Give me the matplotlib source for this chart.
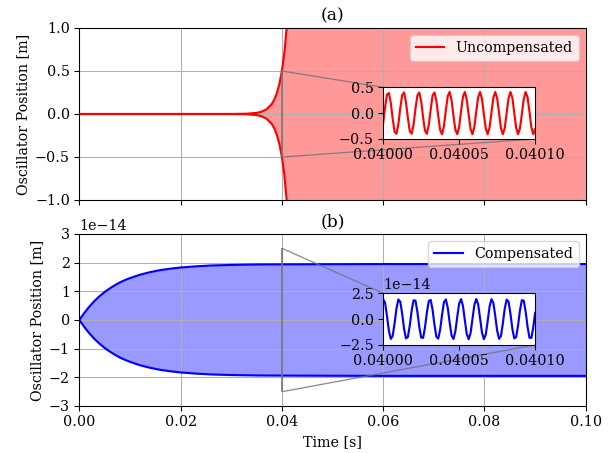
import numpy as np
import matplotlib
matplotlib.use('Agg')
import matplotlib.pyplot as plt
from matplotlib.ticker import FormatStrFormatter

plt.rcParams['font.family'] = 'DejaVu Serif'
plt.rcParams['font.size'] = 10.7

# envelope of the uncompensated oscillation
unc_t   = [0.0, 0.030, 0.033, 0.035, 0.036, 0.037, 0.038, 0.0385, 0.039, 0.0395,
           0.040, 0.0405, 0.041, 0.0415, 0.042, 0.045, 0.1]
unc_env = [0.0, 0.0003, 0.003, 0.013, 0.027, 0.056, 0.116, 0.167, 0.241, 0.347,
           0.50, 0.72, 1.04, 1.50, 2.16, 19.0, 1000.0]

# envelope of the compensated oscillation, units of 1e-14 m
comp_t   = [0.0, 0.001, 0.002, 0.003, 0.004, 0.005, 0.006, 0.007, 0.008, 0.009,
            0.010, 0.012, 0.014, 0.016, 0.018, 0.020, 0.023, 0.026, 0.030, 0.035,
            0.040, 0.050, 0.060, 0.080, 0.100]
comp_env = [0.0, 0.25, 0.47, 0.665, 0.83, 0.975, 1.10, 1.21, 1.31, 1.39,
            1.46, 1.58, 1.67, 1.74, 1.79, 1.83, 1.87, 1.90, 1.92, 1.935,
            1.94, 1.945, 1.95, 1.95, 1.95]

# zoomed window 0.04000 .. 0.04010 s, 81 samples
zoom_t = np.linspace(0.04, 0.0401, 81)
unc_zoom = [-0.19, 0.12, 0.36, 0.39, 0.20, -0.11, -0.36, -0.40, -0.21, 0.10,
            0.35, 0.40, 0.21, -0.09, -0.35, -0.40, -0.22, 0.09, 0.34, 0.40,
            0.23, -0.08, -0.34, -0.40, -0.23, 0.07, 0.34, 0.40, 0.24, -0.06,
            -0.33, -0.41, -0.25, 0.06, 0.33, 0.41, 0.25, -0.05, -0.32, -0.41,
            -0.26, 0.04, 0.32, 0.41, 0.26, -0.03, -0.31, -0.41, -0.27, 0.03,
            0.31, 0.41, 0.28, -0.02, -0.30, -0.41, -0.28, 0.01, 0.30, 0.41,
            0.29, 0.00, -0.29, -0.41, -0.29, 0.00, 0.29, 0.41, 0.30, 0.01,
            -0.28, -0.41, -0.30, -0.02, 0.27, 0.41, 0.31, 0.03, -0.27, -0.41,
            -0.31]
comp_zoom = [1.93, 1.56, 0.29, -1.13, -1.92, -1.62, -0.40, 1.04, 1.90, 1.68,
             0.51, -0.95, -1.87, -1.73, -0.61, 0.85, 1.83, 1.78, 0.71, -0.75,
             -1.79, -1.82, -0.81, 0.65, 1.75, 1.86, 0.91, -0.55, -1.70, -1.89,
             -1.01, 0.44, 1.64, 1.91, 1.10, -0.34, -1.58, -1.93, -1.19, 0.23,
             1.51, 1.94, 1.27, -0.12, -1.44, -1.95, -1.35, 0.01, 1.37, 1.95,
             1.43, 0.10, -1.29, -1.94, -1.50, -0.21, 1.20, 1.93, 1.57, 0.32,
             -1.12, -1.91, -1.63, -0.42, 1.03, 1.89, 1.69, 0.53, -0.93, -1.86,
             -1.74, -0.63, 0.83, 1.83, 1.79, 0.73, -0.73, -1.79, -1.83, -0.83,
             0.63]

unc_t = np.array(unc_t)
unc_env = np.array(unc_env)
comp_t = np.array(comp_t)
comp_env = np.array(comp_env) * 1e-14
comp_zoom = np.array(comp_zoom) * 1e-14

fig, axes = plt.subplots(2, 1, figsize=(613/96, 453/96), dpi=96, sharex=True)
ax1, ax2 = axes
ax1.set_position([0.1294, 0.5585, 0.8262, 0.3797])
ax2.set_position([0.1294, 0.1038, 0.8262, 0.3797])

# (a) uncompensated
ax1.fill_between(unc_t, -unc_env, unc_env, color='red', alpha=0.4, linewidth=0)
ax1.plot(unc_t, unc_env, color='red', linewidth=1.6, label='Uncompensated')
ax1.plot(unc_t, -unc_env, color='red', linewidth=1.6)
ax1.set_xlim(0, 0.1)
ax1.set_ylim(-1, 1)
ax1.set_yticks([-1.0, -0.5, 0.0, 0.5, 1.0])
ax1.set_ylabel('Oscillator Position [m]')
ax1.set_title('(a)')
ax1.grid(True)
ax1.legend(loc='upper right')

ins1 = ax1.inset_axes([0.6, 0.355, 0.3, 0.3])
ins1.plot(zoom_t, unc_zoom, color='red', linewidth=1.6)
ins1.set_xlim(0.04, 0.0401)
ins1.set_ylim(-0.5, 0.5)
ins1.set_xticks([0.04, 0.04005, 0.0401])
ins1.set_yticks([-0.5, 0.0, 0.5])
ins1.xaxis.set_major_formatter(FormatStrFormatter('%.5f'))
ax1.indicate_inset_zoom(ins1, edgecolor='0.45', alpha=0.8)

# (b) compensated
ax2.fill_between(comp_t, -comp_env, comp_env, color='blue', alpha=0.4, linewidth=0)
ax2.plot(comp_t, comp_env, color='blue', linewidth=1.6, label='Compensated')
ax2.plot(comp_t, -comp_env, color='blue', linewidth=1.6)
ax2.set_ylim(-3e-14, 3e-14)
ax2.set_yticks(np.arange(-3, 4) * 1e-14)
ax2.set_xticks([0.0, 0.02, 0.04, 0.06, 0.08, 0.10])
ax2.set_xlabel('Time [s]')
ax2.set_ylabel('Oscillator Position [m]')
ax2.set_title('(b)')
ax2.grid(True)
ax2.legend(loc='upper right')

ins2 = ax2.inset_axes([0.6, 0.355, 0.3, 0.3])
ins2.plot(zoom_t, comp_zoom, color='blue', linewidth=1.6)
ins2.set_xlim(0.04, 0.0401)
ins2.set_ylim(-2.5e-14, 2.5e-14)
ins2.set_xticks([0.04, 0.04005, 0.0401])
ins2.set_yticks([-2.5e-14, 0.0, 2.5e-14])
ins2.xaxis.set_major_formatter(FormatStrFormatter('%.5f'))
ax2.indicate_inset_zoom(ins2, edgecolor='0.45', alpha=0.8)

plt.savefig('out.png', dpi=96)
